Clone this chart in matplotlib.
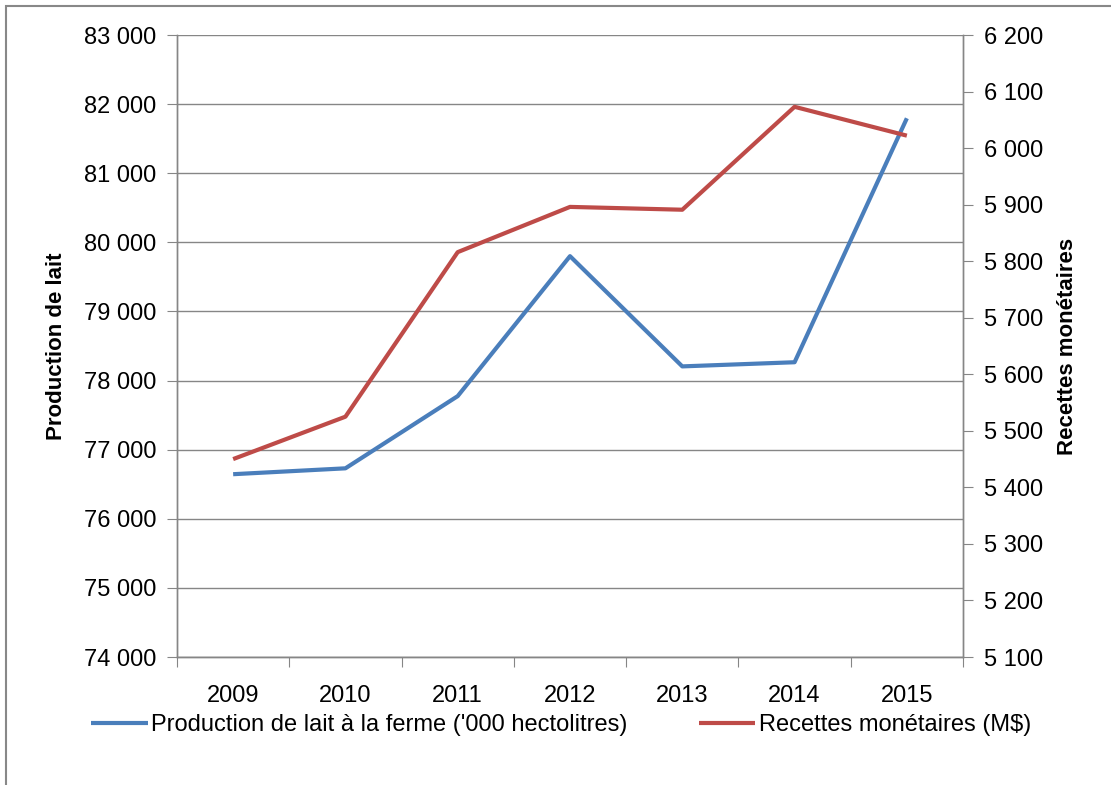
import matplotlib.pyplot as plt
from matplotlib.patches import Rectangle
from matplotlib.ticker import FuncFormatter

plt.rcParams['font.family'] = ['Liberation Sans', 'DejaVu Sans']

years = ['2009', '2010', '2011', '2012', '2013', '2014', '2015']
production = [76645, 76730, 77775, 79800, 78205, 78265, 81795]
recettes = [5450, 5525, 5816, 5896, 5891, 6073, 6022]

blue = '#4A7EBB'
red = '#BE4B48'
grey = '#868686'
fs = 17

def space_fmt(v, pos):
    return '{:,.0f}'.format(v).replace(',', ' ')

fig = plt.figure(figsize=(11.11, 7.85), dpi=100)
fig.patches.append(Rectangle((6/1111, -0.1), 1.2, 0.1 + (785-6)/785,
                             transform=fig.transFigure, fill=False,
                             edgecolor='#888888', linewidth=1.5))

ax1 = fig.add_axes([177/1111, 1 - 657/785, (963-177)/1111, (657-35)/785])
ax2 = ax1.twinx()

x = list(range(len(years)))
l1, = ax1.plot(x, production, color=blue, lw=3, solid_capstyle='butt',
               label="Production de lait à la ferme ('000 hectolitres)", zorder=3)
l2, = ax2.plot(x, recettes, color=red, lw=3, solid_capstyle='butt',
               label='Recettes monétaires (M$)', zorder=3)

ax1.set_xlim(-0.5, 6.5)
ax1.set_ylim(74000, 83000)
ax1.set_yticks(range(74000, 83001, 1000))
ax2.set_ylim(5100, 6200)
ax2.set_yticks(range(5100, 6201, 100))
ax1.yaxis.set_major_formatter(FuncFormatter(space_fmt))
ax2.yaxis.set_major_formatter(FuncFormatter(space_fmt))

# categories labelled at centre, tick marks on the boundaries
ax1.set_xticks([i + 0.5 for i in range(-1, 7)])
ax1.set_xticklabels([])
ax1.set_xticks(x, minor=True)
ax1.set_xticklabels(years, minor=True)
ax1.tick_params(axis='x', which='minor', length=0, labelsize=fs, pad=20)
ax1.tick_params(axis='x', which='major', length=7, color=grey, direction='out')
ax1.tick_params(axis='y', length=7, color=grey, labelsize=fs, pad=8)
ax2.tick_params(axis='y', length=7, color=grey, labelsize=fs, pad=8)

ax1.grid(axis='y', color=grey, lw=1)
for ax in (ax1, ax2):
    ax.spines['top'].set_visible(False)
    for s in ('left', 'right', 'bottom'):
        ax.spines[s].set_color(grey)
        ax.spines[s].set_linewidth(1)

ax1.set_ylabel('Production de lait', fontsize=16, fontweight='bold', labelpad=12)
ax2.set_ylabel('Recettes monétaires', fontsize=16, fontweight='bold',
               rotation=90, labelpad=10)

fig.legend(handles=[l1, l2], loc='center', bbox_to_anchor=(0.505, 1 - 725/785),
           ncol=2, frameon=False, fontsize=fs, handlelength=2.4,
           handletextpad=0.15, columnspacing=3.0)

fig.savefig('out.png', dpi=100)
